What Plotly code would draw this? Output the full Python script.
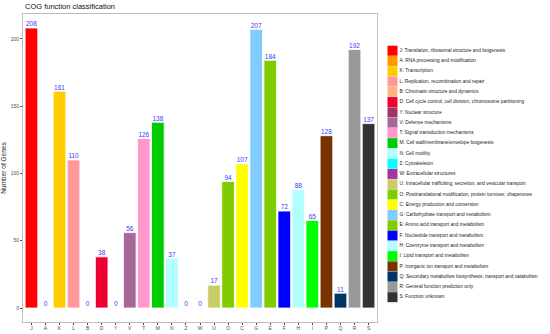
import plotly.graph_objects as go

codes = ["J","A","K","L","B","D","Y","V","T","M","N","Z","W",
         "U","O","C","G","E","F","H","I","P","Q","R","S"]
counts = [208,0,161,110,0,38,0,56,126,138,37,0,0,
          17,94,107,207,184,72,88,65,128,11,192,137]
descriptions = [
    "J: Translation, ribosomal structure and biogenesis",
    "A: RNA processing and modification",
    "K: Transcription",
    "L: Replication, recombination and repair",
    "B: Chromatin structure and dynamics",
    "D: Cell cycle control, cell division, chromosome partitioning",
    "Y: Nuclear structure",
    "V: Defense mechanisms",
    "T: Signal transduction mechanisms",
    "M: Cell wall/membrane/envelope biogenesis",
    "N: Cell motility",
    "Z: Cytoskeleton",
    "W: Extracellular structures",
    "U: Intracellular trafficking, secretion, and vesicular transport",
    "O: Posttranslational modification, protein turnover, chaperones",
    "C: Energy production and conversion",
    "G: Carbohydrate transport and metabolism",
    "E: Amino acid transport and metabolism",
    "F: Nucleotide transport and metabolism",
    "H: Coenzyme transport and metabolism",
    "I: Lipid transport and metabolism",
    "P: Inorganic ion transport and metabolism",
    "Q: Secondary metabolites biosynthesis, transport and catabolism",
    "R: General function prediction only",
    "S: Function unknown",
]
colors = ["#FF0000","#FF9900","#FFCC00","#FF9999","#FFB380","#EE0033","#A33366",
          "#A8669A","#FF99CC","#00CC00","#B3FFFF","#00FFFF","#A633A6",
          "#CCCC66","#80CC00","#FFFF00","#80CCFF","#80CC00","#0000FF",
          "#B3FFFF","#00FF00","#773300","#003366","#999999","#333333"]

W, H = 550, 334
px_l, px_r, px_t, px_b = 23, 377, 14, 322
y_lo, y_hi = -10.4, 218.4

fig = go.Figure()
fig.add_trace(go.Bar(
    x=codes, y=counts, width=0.9,
    marker=dict(color=colors, line=dict(color="white", width=0.8)),
    showlegend=False, hoverinfo="x+y",
))
fig.add_trace(go.Scatter(
    x=codes, y=counts, mode="text", text=[str(v) for v in counts],
    textposition="top center",
    textfont=dict(family="Liberation Sans, Arial", size=6.5, color="#3a3aff"),
    showlegend=False, hoverinfo="skip",
))

# manual legend on a second pair of axes
idx = list(range(len(codes)))
fig.add_trace(go.Scatter(
    x=[15.5]*len(codes), y=idx, mode="markers",
    marker=dict(symbol="square", size=10, color=colors, line=dict(width=0)),
    xaxis="x2", yaxis="y2", showlegend=False, hoverinfo="skip",
))
fig.add_trace(go.Scatter(
    x=[22.5]*len(codes), y=idx, mode="text", text=descriptions,
    textposition="middle right",
    textfont=dict(family="Liberation Sans, Arial", size=4.8, color="#222222"),
    xaxis="x2", yaxis="y2", showlegend=False, hoverinfo="skip",
))

axis_font = dict(family="Liberation Sans, Arial", size=5, color="#4d4d4d")
fig.update_layout(
    width=W, height=H,
    margin=dict(l=0, r=0, t=0, b=0),
    paper_bgcolor="white", plot_bgcolor="white",
    font=dict(family="Liberation Sans, Arial"),
    bargap=0.1,
    xaxis=dict(
        domain=[px_l / W, px_r / W],
        categoryorder="array", categoryarray=codes,
        range=[-0.6, len(codes) - 0.4],
        showgrid=False, zeroline=False,
        showline=True, mirror=True, linecolor="#bdbdbd", linewidth=1,
        ticks="outside", ticklen=2, tickcolor="#4d4d4d", tickwidth=0.5,
        tickfont=axis_font, ticklabelstandoff=-1,
    ),
    yaxis=dict(
        domain=[(H - px_b) / H, (H - px_t) / H],
        range=[y_lo, y_hi],
        tickvals=[0, 50, 100, 150, 200],
        showgrid=False, zeroline=False,
        showline=True, mirror=True, linecolor="#bdbdbd", linewidth=1,
        ticks="outside", ticklen=2, tickcolor="#4d4d4d", tickwidth=0.5,
        tickfont=axis_font,
        title=dict(text="Number of Genes", font=dict(size=6.5, color="#222222"), standoff=5),
    ),
    xaxis2=dict(domain=[px_r / W, 1], range=[0, W - px_r], visible=False,
                anchor="y2"),
    yaxis2=dict(domain=[0, 1], range=[(H - 50.7) / 10.27, -50.7 / 10.27],
                visible=False, anchor="x2"),
    annotations=[dict(
        text="COG function classification", x=px_l / W, y=1 - 6.5 / H,
        xref="paper", yref="paper", xanchor="left", yanchor="middle",
        showarrow=False, font=dict(size=7.5, color="#111111"),
    )],
)

fig.write_html("out.html", config={"displayModeBar": False},
               post_script="document.body.style.margin='0';")
